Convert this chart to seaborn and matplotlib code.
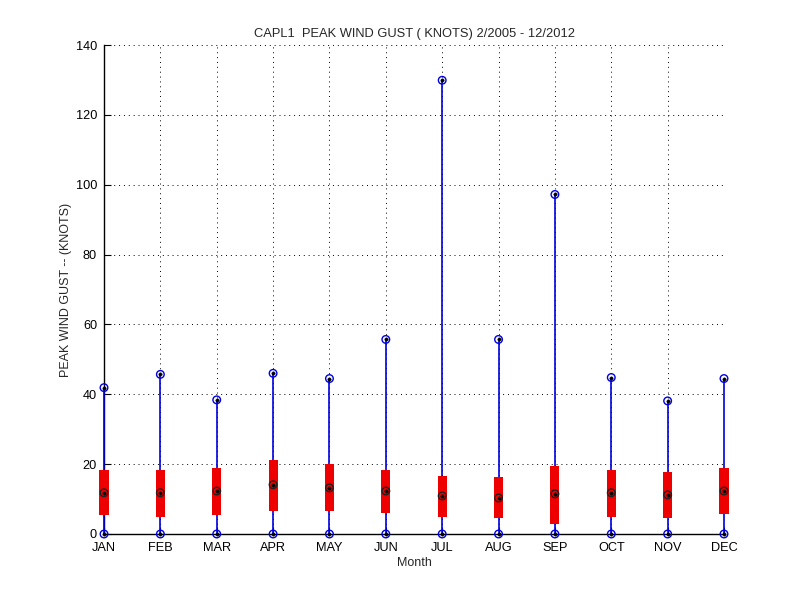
import matplotlib
matplotlib.use("Agg")
import matplotlib.pyplot as plt
import seaborn as sns
import pandas as pd
import numpy as np

months = ["JAN", "FEB", "MAR", "APR", "MAY", "JUN", "JUL", "AUG", "SEP", "OCT", "NOV", "DEC"]
max_gust = [41.9, 45.7, 38.4, 46.0, 44.5, 55.7, 129.9, 55.7, 97.2, 44.8, 38.1, 44.5]
min_gust = [0, 0, 0, 0, 0, 0, 0, 0, 0, 0, 0, 0]
q75 = [18.2, 18.4, 19.0, 21.3, 19.9, 18.4, 16.7, 16.4, 19.6, 18.4, 17.8, 19.0]
q25 = [5.4, 5.0, 5.4, 6.5, 6.5, 5.9, 5.0, 4.5, 3.0, 5.0, 4.5, 5.6]
median = [11.8, 11.8, 12.3, 14.1, 13.2, 12.3, 10.9, 10.3, 11.5, 11.8, 11.2, 12.3]
yticks = [0, 20, 40, 60, 80, 100, 120, 140]

sns.set_style("white")
plt.rcParams['font.family'] = ['Liberation Sans', 'DejaVu Sans']

df = pd.DataFrame({"pos": np.arange(1, 13), "month": months, "max": max_gust,
                   "min": min_gust, "q75": q75, "q25": q25, "median": median})

fig = plt.figure(figsize=(8, 6), dpi=100)
ax = fig.add_axes([0.13, 0.11, 0.775, 0.815])

# whiskers
vl = ax.vlines(df["pos"], df["min"], df["max"], colors="#0000e0", linewidth=1.2, zorder=2.7)
vl.set_clip_on(False)
# boxes
bars = ax.bar(df["pos"], df["q75"] - df["q25"], bottom=df["q25"], width=0.16,
              color="#ee0000", edgecolor="none", zorder=3)
for b in bars:
    b.set_clip_on(False)

# markers
n_before = len(ax.collections)
for col, ec in [("max", "#0000e0"), ("min", "#0000e0"), ("median", "#202020")]:
    sns.scatterplot(data=df, x="pos", y=col, ax=ax, marker="o", s=30,
                    facecolors="none", edgecolor=ec, linewidth=1.0, zorder=5, legend=False)
    sns.scatterplot(data=df, x="pos", y=col, ax=ax, marker="o", s=6,
                    color="black", edgecolor="black", linewidth=0.3, zorder=6, legend=False)
for c in ax.collections[n_before:]:
    c.set_clip_on(False)

ax.set_xlim(1, 12)
ax.set_ylim(0, 140)
ax.set_xticks(df["pos"])
ax.set_xticklabels(months)
ax.set_yticks(yticks)
ax.grid(True, color="black", linestyle=(0, (1, 4)), linewidth=0.7)
ax.set_axisbelow(True)
for s in ["top", "right"]:
    ax.spines[s].set_visible(False)
for s in ["left", "bottom"]:
    ax.spines[s].set_color("black")
    ax.spines[s].set_linewidth(1.0)
ax.tick_params(direction="in", length=5, width=0.8, colors="black", labelsize=9.2,
               left=True, bottom=True)
ax.tick_params(axis="x", pad=6)
ax.tick_params(axis="y", pad=5)
ax.set_xlabel("Month", fontsize=9, labelpad=2)
ax.set_ylabel("PEAK WIND GUST -- (KNOTS)", fontsize=9, labelpad=3)
ax.set_title("CAPL1  PEAK WIND GUST ( KNOTS) 2/2005 - 12/2012", fontsize=9.3, pad=6)

fig.savefig("out.png", dpi=100)
